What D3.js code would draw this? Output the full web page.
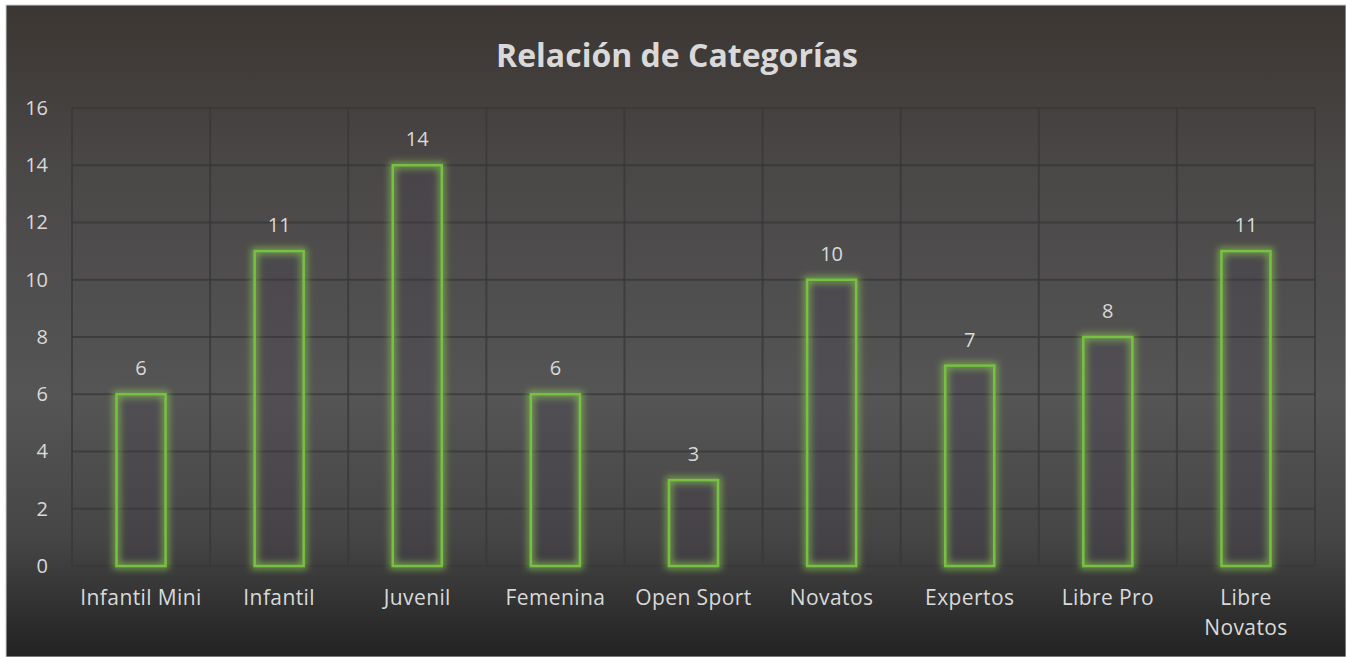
<!DOCTYPE html>
<html>
<head>
<meta charset="utf-8">
<script src="https://cdn.jsdelivr.net/npm/d3@7"></script>
<style>
  body { margin: 0; background: #fff; }
  svg { display: block; }
</style>
</head>
<body>
<svg id="chart" width="1346" height="657"></svg>
<script>
var categories = ["Infantil Mini", "Infantil", "Juvenil", "Femenina", "Open Sport", "Novatos", "Expertos", "Libre Pro", "Libre Novatos"];
var values = [6, 11, 14, 6, 3, 10, 7, 8, 11];
var yTicks = [0, 2, 4, 6, 8, 10, 12, 14, 16];
var chartTitle = "Relación de Categorías";

var width = 1346;
var height = 657;
var margin = { top: 108, right: 31, bottom: 91, left: 72 };
var font = "'Open Sans', sans-serif";

var svg = d3.select("#chart");
var defs = svg.append("defs");

var bg = defs.append("linearGradient")
    .attr("id", "bg")
    .attr("x1", 0).attr("y1", 0).attr("x2", 0).attr("y2", 1);
bg.append("stop").attr("offset", "0%").attr("stop-color", "#3b3632");
bg.append("stop").attr("offset", "25%").attr("stop-color", "#4a4747");
bg.append("stop").attr("offset", "60%").attr("stop-color", "#555555");
bg.append("stop").attr("offset", "82%").attr("stop-color", "#454545");
bg.append("stop").attr("offset", "100%").attr("stop-color", "#222222");

var glow = defs.append("filter")
    .attr("id", "glow")
    .attr("x", "-50%").attr("y", "-20%").attr("width", "200%").attr("height", "140%");
glow.append("feMorphology").attr("in", "SourceAlpha").attr("operator", "dilate").attr("radius", 1.5).attr("result", "thick");
glow.append("feGaussianBlur").attr("in", "thick").attr("stdDeviation", 3.5).attr("result", "blur");
glow.append("feFlood").attr("flood-color", "#8fd14f").attr("flood-opacity", 0.65);
glow.append("feComposite").attr("in2", "blur").attr("operator", "in").attr("result", "glowCol");
var merge = glow.append("feMerge");
merge.append("feMergeNode").attr("in", "glowCol");
merge.append("feMergeNode").attr("in", "SourceGraphic");

// chart background
svg.append("rect")
    .attr("x", 6).attr("y", 5)
    .attr("width", width - 6).attr("height", height - 5)
    .attr("fill", "url(#bg)")
    .attr("stroke", "#d0d0d0")
    .attr("stroke-width", 1);

var xScale = d3.scaleBand()
    .domain(categories)
    .range([margin.left, width - margin.right])
    .padding(0);

var yScale = d3.scaleLinear()
    .domain([0, 16])
    .range([height - margin.bottom, margin.top]);

// grid
svg.append("g")
    .selectAll("line")
    .data(yTicks)
    .join("line")
    .attr("x1", margin.left)
    .attr("x2", width - margin.right)
    .attr("y1", d => yScale(d))
    .attr("y2", d => yScale(d))
    .attr("stroke", "#383838")
    .attr("stroke-opacity", 0.8)
    .attr("stroke-width", 2);

var edges = categories.map(c => xScale(c)).concat([width - margin.right]);
svg.append("g")
    .selectAll("line")
    .data(edges)
    .join("line")
    .attr("x1", d => d)
    .attr("x2", d => d)
    .attr("y1", yScale(16))
    .attr("y2", yScale(0))
    .attr("stroke", "#383838")
    .attr("stroke-opacity", 0.8)
    .attr("stroke-width", 2);

// y axis labels
var yAxis = d3.axisLeft(yScale).tickValues(yTicks).tickSize(0).tickPadding(0);
var yg = svg.append("g")
    .attr("transform", `translate(${margin.left - 24},0)`)
    .call(yAxis);
yg.select(".domain").remove();
yg.selectAll("text")
    .attr("fill", "#d9d9d9")
    .style("font-family", font)
    .style("font-size", "20px");

// bars: dim fill, then glowing outline
var barW = xScale.bandwidth() * 0.355;
var barX = (d, i) => xScale(categories[i]) + (xScale.bandwidth() - barW) / 2;
svg.append("g")
    .selectAll("rect")
    .data(values)
    .join("rect")
    .attr("x", barX)
    .attr("y", d => yScale(d))
    .attr("width", barW)
    .attr("height", d => yScale(0) - yScale(d))
    .attr("fill", "rgba(70,60,80,0.22)");

svg.append("g")
    .selectAll("rect")
    .data(values)
    .join("rect")
    .attr("x", barX)
    .attr("y", d => yScale(d))
    .attr("width", barW)
    .attr("height", d => yScale(0) - yScale(d))
    .attr("fill", "none")
    .attr("stroke", "#76c043")
    .attr("stroke-width", 2.5)
    .attr("filter", "url(#glow)");

// value labels
svg.append("g")
    .selectAll("text")
    .data(values)
    .join("text")
    .attr("x", (d, i) => xScale(categories[i]) + xScale.bandwidth() / 2)
    .attr("y", d => yScale(d) - 19)
    .attr("text-anchor", "middle")
    .attr("fill", "#d9d9d9")
    .style("font-family", font)
    .style("font-size", "20px")
    .text(d => d);

// category labels
var xAxis = d3.axisBottom(xScale).tickSize(0).tickPadding(0);
var xg = svg.append("g")
    .attr("transform", `translate(0,${yScale(0) + 24})`)
    .call(xAxis);
xg.select(".domain").remove();
xg.selectAll("text")
    .attr("fill", "#d9d9d9")
    .style("font-family", font)
    .style("font-size", "21px")
    .style("letter-spacing", "0.4px")
    .each(function (d) {
        var t = d3.select(this);
        if (d === "Libre Novatos") {
            t.text(null);
            t.append("tspan").attr("x", 0).attr("dy", "0.71em").text("Libre");
            t.append("tspan").attr("x", 0).attr("dy", "1.45em").text("Novatos");
        }
    });

// title
svg.append("text")
    .attr("x", (width + 6) / 2 + 1)
    .attr("y", 67)
    .attr("text-anchor", "middle")
    .attr("fill", "#d9d9d9")
    .style("font-family", font)
    .style("font-weight", "bold")
    .style("font-size", "32px")
    .text(chartTitle);
</script>
</body>
</html>
